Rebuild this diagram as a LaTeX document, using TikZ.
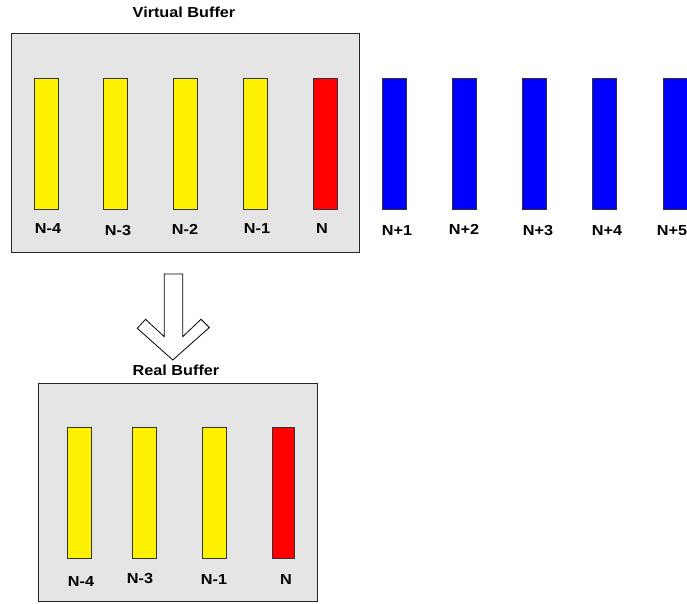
\documentclass[tikz,border=0pt]{standalone}
\usepackage{fontspec}
\newfontfamily\labelfont[FakeStretch=1.12]{Liberation Sans}
\begin{document}
\begin{tikzpicture}[x=1pt,y=-1pt,
  panel/.style={draw=black!85, fill=black!10, line width=0.8pt},
  slot/.style={draw=black!80, line width=0.8pt, minimum width=24pt,
    minimum height=131pt, inner sep=0pt, anchor=north west},
  older/.style={slot, fill=yellow},
  current/.style={slot, fill=red},
  future/.style={slot, fill=blue},
  tag/.style={font=\labelfont\bfseries\fontsize{14.5}{16}\selectfont, inner sep=0pt},
  title/.style={font=\labelfont\bfseries\fontsize{14.5}{16}\selectfont, inner sep=0pt}]
\useasboundingbox (0,0) rectangle (687,603);

% virtual buffer
\node[title] (vtitle) at (184,12) {Virtual Buffer};
\draw[panel] (11,33) rectangle (359,252);
\node[older]   (v1) at (34,78)  {};
\node[older]   (v2) at (103,78) {};
\node[older]   (v3) at (173,78) {};
\node[older]   (v4) at (243,78) {};
\node[current] (v5) at (313,78) {};
\node[tag] (lv1) at (48,229)  {N-4};
\node[tag] (lv2) at (118,231) {N-3};
\node[tag] (lv3) at (185,229) {N-2};
\node[tag] (lv4) at (257,229) {N-1};
\node[tag] (lv5) at (322,229) {N};

% frames still to come
\node[future] (f1) at (382,78) {};
\node[future] (f2) at (452,78) {};
\node[future] (f3) at (522,78) {};
\node[future] (f4) at (592,78) {};
\node[future] (f5) at (663,78) {};
\node[tag] (lf1) at (397,231) {N+1};
\node[tag] (lf2) at (464,229) {N+2};
\node[tag] (lf3) at (538,231) {N+3};
\node[tag] (lf4) at (607,231) {N+4};
\node[tag] (lf5) at (672,231) {N+5};

% hollow down arrow
\draw[line width=0.8pt, fill=white]
  (164.3,274) -- (182.7,274) -- (182.7,336.7) -- (201,319.3) -- (209.3,327.5)
  -- (172.8,360) -- (137.3,328.3) -- (145.5,319.3) -- (164.3,336.7) -- cycle;

% real buffer
\node[title] (rtitle) at (176,370) {Real Buffer};
\draw[panel] (38,383) rectangle (317,601);
\node[older]   (r1) at (67,427)  {};
\node[older]   (r2) at (132,427) {};
\node[older]   (r3) at (202,427) {};
\node[current, minimum width=22pt] (r4) at (272,427) {};
\node[tag] (lr1) at (81,581)  {N-4};
\node[tag] (lr2) at (140,579) {N-3};
\node[tag] (lr3) at (214,579) {N-1};
\node[tag] (lr4) at (286,579) {N};
\end{tikzpicture}
\end{document}
